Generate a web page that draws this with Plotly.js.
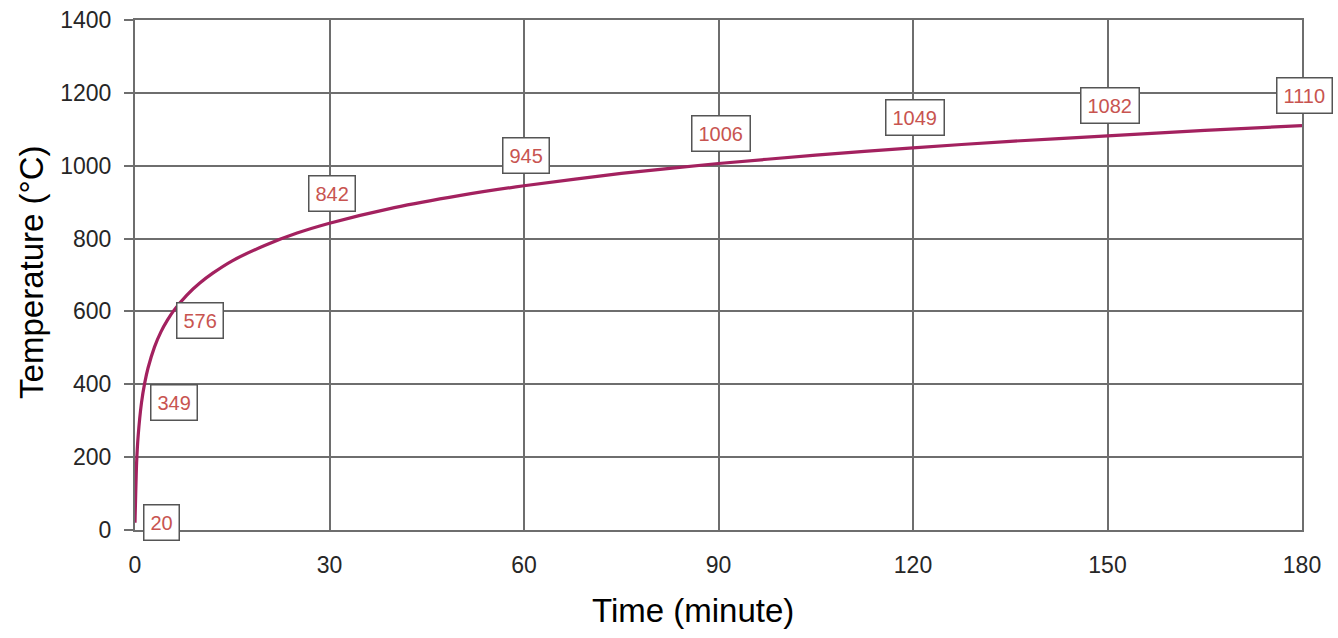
<!DOCTYPE html>
<html>
<head>
<meta charset="utf-8">
<script src="https://cdn.plot.ly/plotly-3.0.1.min.js"></script>
<style>html,body{margin:0;padding:0;background:#fff;}#chart{width:1338px;height:638px;}</style>
</head>
<body>
<div id="chart"></div>
<script>
// Curve readings: time (minute) and temperature (°C)
const timeMin = [0, 0.25, 0.5, 1, 1.5, 2, 3, 4, 5, 6, 8, 10, 12, 15, 20, 25, 30, 40, 50, 60, 75, 90, 105, 120, 135, 150, 165, 180];
const tempC   = [20, 185, 261, 349, 404, 444, 502, 544, 576, 603, 645, 678, 705, 739, 781, 815, 842, 885, 918, 945, 979, 1006, 1029, 1049, 1067, 1082, 1097, 1110];

// Labelled points
const labelTimes  = [0, 1, 5, 30, 60, 90, 120, 150, 180];
const labelValues = [20, 349, 576, 842, 945, 1006, 1049, 1082, 1110];

const xTicks = [0, 30, 60, 90, 120, 150, 180];
const yTicks = [0, 200, 400, 600, 800, 1000, 1200, 1400];

const xTitle = 'Time (minute)';
const yTitle = 'Temperature (°C)';

const FONT = 'Liberation Sans, Arial, sans-serif';

const trace = {
  x: timeMin, y: tempC, type: 'scatter', mode: 'lines',
  line: {color: '#a3215f', width: 3.2, shape: 'spline', smoothing: 0.6},
  hoverinfo: 'x+y', cliponaxis: false
};

const annotations = labelTimes.map((t, i) => {
  const early = t < 10;
  return {
    x: t, y: labelValues[i], xref: 'x', yref: 'y',
    text: String(labelValues[i]), showarrow: false,
    xshift: early ? (t === 0 ? 26 : 33) : 2,
    yshift: early ? 0 : 30,
    bgcolor: '#ffffff', bordercolor: '#555555', borderwidth: 1.5, borderpad: 6,
    font: {family: FONT, size: 20, color: '#c85450'}
  };
});

annotations.push({
  xref: 'paper', yref: 'paper', x: 0.478, y: -0.157, xanchor: 'center', yanchor: 'middle',
  text: xTitle, showarrow: false, font: {family: FONT, size: 33, color: '#000000'}
});
annotations.push({
  xref: 'paper', yref: 'paper', x: -0.0883, y: 0.506, xanchor: 'center', yanchor: 'middle',
  text: yTitle, textangle: -90, showarrow: false, font: {family: FONT, size: 33, color: '#000000'}
});

const layout = {
  width: 1338, height: 638,
  margin: {l: 135, r: 36, t: 20, b: 108},
  paper_bgcolor: '#ffffff', plot_bgcolor: '#ffffff',
  showlegend: false,
  xaxis: {
    range: [0, 180], tickvals: xTicks, ticktext: xTicks.map(String),
    showgrid: true, gridcolor: '#6e6e6e', gridwidth: 2,
    zeroline: false, showline: true, linecolor: '#6e6e6e', linewidth: 2, mirror: true,
    ticks: '', ticklabelstandoff: 13,
    tickfont: {family: FONT, size: 23, color: '#262626'}
  },
  yaxis: {
    range: [0, 1400], tickvals: yTicks, ticktext: yTicks.map(String),
    showgrid: true, gridcolor: '#6e6e6e', gridwidth: 2,
    zeroline: false, showline: true, linecolor: '#6e6e6e', linewidth: 2, mirror: true,
    ticks: 'outside', ticklen: 9, tickcolor: '#6e6e6e', tickwidth: 2,
    ticklabelstandoff: 8,
    tickfont: {family: FONT, size: 23, color: '#262626'}
  },
  annotations: annotations
};

Plotly.newPlot('chart', [trace], layout, {displayModeBar: false, staticPlot: true});
</script>
</body>
</html>
